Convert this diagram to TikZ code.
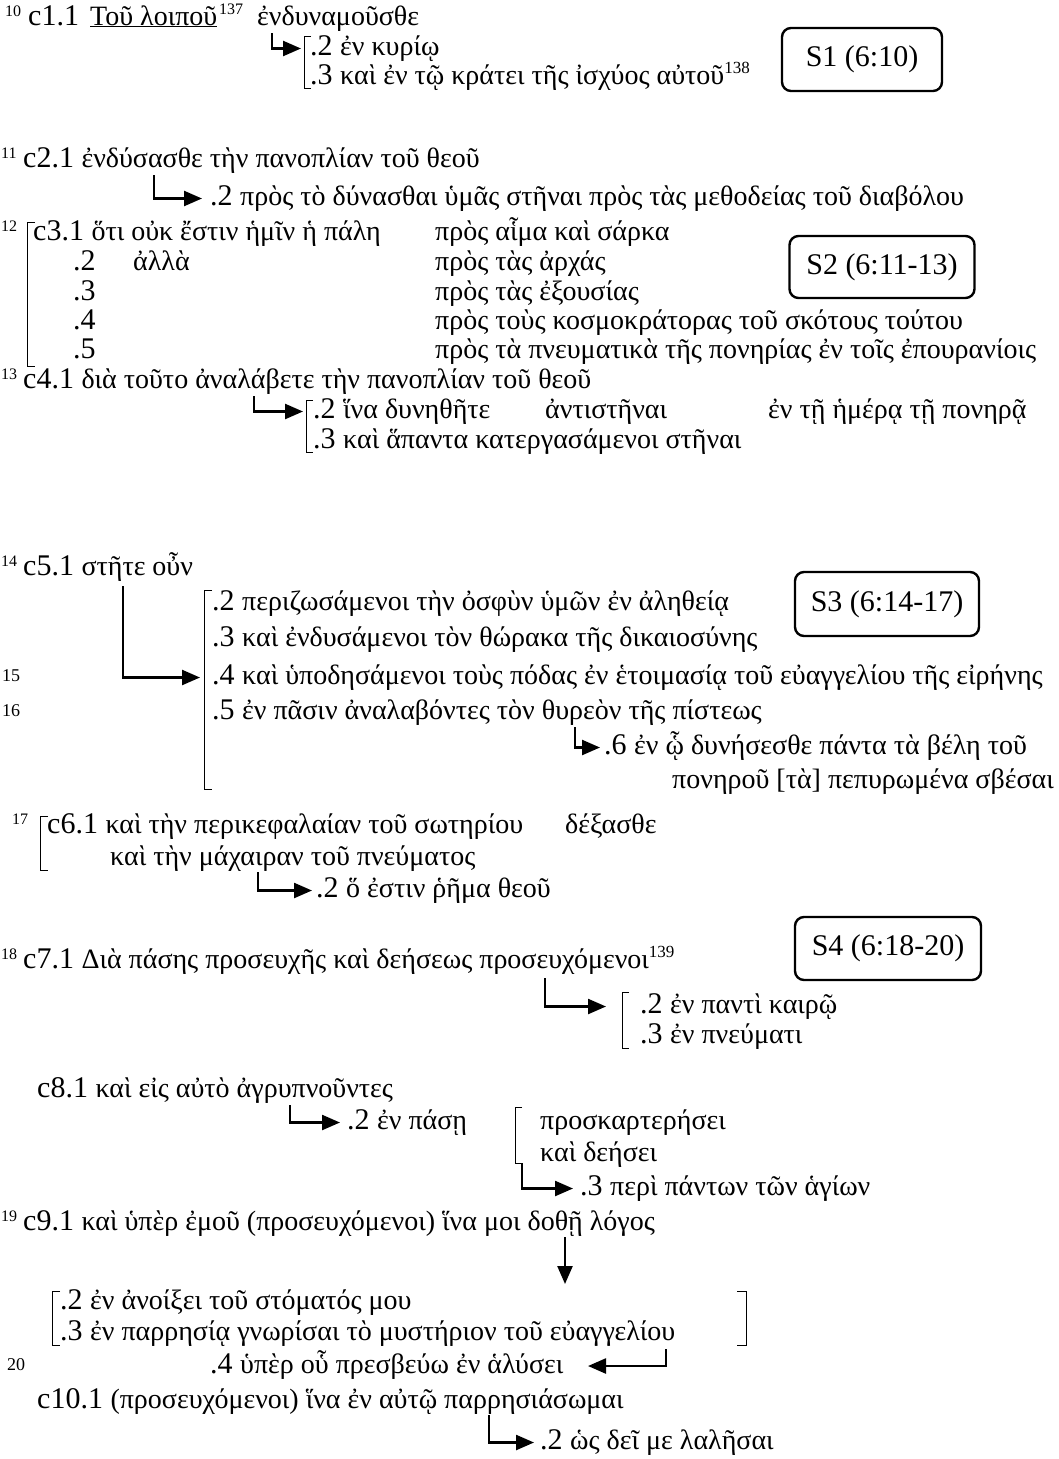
\documentclass[tikz,border=0pt]{standalone}
\usepackage{fontspec}
\setmainfont{Liberation Serif}
\usetikzlibrary{arrows.meta}
\newcommand{\lat}{\fontsize{30}{35}\selectfont}
\newcommand{\gr}[1]{{\fontsize{28}{33}\selectfont #1}}
\newcommand{\fnum}[1]{\raisebox{11pt}{\fontsize{17}{17}\selectfont #1}}
\begin{document}
\begin{tikzpicture}[x=1pt,y=-1pt,
  t/.style={anchor=base west,inner sep=0pt,text height=20pt,text depth=7pt,font=\lat},
  vn/.style={anchor=base west,inner sep=0pt,font=\fontsize{16}{16}\selectfont},
  vb/.style={anchor=base west,inner sep=0pt,font=\fontsize{18}{18}\selectfont},
  arr/.style={line width=2.4pt,-{Triangle[length=18pt,width=15pt]}},
  br/.style={line width=0.9pt},
  sbox/.style={draw,line width=2.4pt,rounded corners=9pt,inner sep=0pt,font=\lat}]
\path[use as bounding box,fill=white] (0,0) rectangle (1059,1459);

% ---- S1 (6:10)
\node[vn] (v10) at (5,16) {10};
\node[t] (c1) at (28,25) {c1.1};
\node[t] (c1a) at (90,25) {\gr{\underline{Τοῦ λοιποῦ}}};
\node[vn] (f137) at (219,14) {137};
\node[t] (c1b) at (257,25) {\gr{ἐνδυναμοῦσθε}};
\node[t] (c1x2) at (310,55) {.2 \gr{ἐν κυρίῳ}};
\node[t] (c1x3) at (310,84) {.3 \gr{καὶ ἐν τῷ κράτει τῆς ἰσχύος αὐτοῦ}\fnum{138}};
\node[sbox,minimum width=160pt,minimum height=63pt] (s1) at (862,59.5) {S1 (6:10)};
\coordinate (a1) at (272,33);
\draw[arr] (a1) |- ([xshift=-9pt]c1x2.west);
\draw[br] (311,36) -- (304,36) -- (304,88) -- (311,88);

% ---- S2 (6:11-13)
\node[vn] (v11) at (1,158) {11};
\node[t] (c2) at (23,167) {c2.1 \gr{ἐνδύσασθε τὴν πανοπλίαν τοῦ θεοῦ}};
\node[t] (c2x2) at (210,205) {.2 \gr{πρὸς τὸ δύνασθαι ὑμᾶς στῆναι πρὸς τὰς μεθοδείας τοῦ διαβόλου}};
\coordinate (a2) at (154,175);
\draw[arr] (a2) |- ([xshift=-8pt]c2x2.west);

\node[vn] (v12) at (1,231) {12};
\node[t] (c3) at (33,240) {c3.1 \gr{ὅτι οὐκ ἔστιν ἡμῖν ἡ πάλη}};
\node[t] (c3p1) at (435,240) {\gr{πρὸς αἷμα καὶ σάρκα}};
\node[t] (c3x2) at (73,270) {.2};
\node[t] (c3x2a) at (133,270) {\gr{ἀλλὰ}};
\node[t] (c3p2) at (435,270) {\gr{πρὸς τὰς ἀρχάς}};
\node[t] (c3x3) at (73,300) {.3};
\node[t] (c3p3) at (435,300) {\gr{πρὸς τὰς ἐξουσίας}};
\node[t] (c3x4) at (73,329) {.4};
\node[t] (c3p4) at (435,329) {\gr{πρὸς τοὺς κοσμοκράτορας τοῦ σκότους τούτου}};
\node[t] (c3x5) at (73,358) {.5};
\node[t] (c3p5) at (435,358) {\gr{πρὸς τὰ πνευματικὰ τῆς πονηρίας ἐν τοῖς ἐπουρανίοις}};
\draw[br] (35,222) -- (27,222) -- (27,366) -- (35,366);
\node[sbox,minimum width=185pt,minimum height=62pt] (s2) at (882,267) {S2 (6:11-13)};

\node[vn] (v13) at (1,379) {13};
\node[t] (c4) at (23,388) {c4.1 \gr{διὰ τοῦτο ἀναλάβετε τὴν πανοπλίαν τοῦ θεοῦ}};
\node[t] (c4x2) at (313,418) {.2 \gr{ἵνα δυνηθῆτε}};
\node[t] (c4x2a) at (545,418) {\gr{ἀντιστῆναι}};
\node[t] (c4x2b) at (768,418) {\gr{ἐν τῇ ἡμέρᾳ τῇ πονηρᾷ}};
\node[t] (c4x3) at (313,448) {.3 \gr{καὶ ἅπαντα κατεργασάμενοι στῆναι}};
\coordinate (a3) at (254,396);
\draw[arr] (a3) |- ([xshift=-10pt]c4x2.west);
\draw[br] (313,400) -- (306,400) -- (306,452) -- (313,452);

% ---- S3 (6:14-17)
\node[vn] (v14) at (1,566) {14};
\node[t] (c5) at (23,575) {c5.1 \gr{στῆτε οὖν}};
\node[t] (c5x2) at (212,610) {.2 \gr{περιζωσάμενοι τὴν ὀσφὺν ὑμῶν ἐν ἀληθείᾳ}};
\node[t] (c5x3) at (212,646) {.3 \gr{καὶ ἐνδυσάμενοι τὸν θώρακα τῆς δικαιοσύνης}};
\node[vb] (v15) at (2,681) {15};
\node[t] (c5x4) at (212,684) {.4 \gr{καὶ ὑποδησάμενοι τοὺς πόδας ἐν ἑτοιμασίᾳ τοῦ εὐαγγελίου τῆς εἰρήνης}};
\node[vb] (v16) at (2,716) {16};
\node[t] (c5x5) at (212,719) {.5 \gr{ἐν πᾶσιν ἀναλαβόντες τὸν θυρεὸν τῆς πίστεως}};
\node[t] (c5x6) at (604,754) {.6 \gr{ἐν ᾧ δυνήσεσθε πάντα τὰ βέλη τοῦ}};
\node[t] (c5x6b) at (672,788) {\gr{πονηροῦ [τὰ] πεπυρωμένα σβέσαι}};
\coordinate (a4) at (123,586);
\draw[arr] (a4) |- ([xshift=-12pt]c5x4.west);
\coordinate (a5) at (575,727);
\draw[arr] (a5) |- ([xshift=-4pt]c5x6.west);
\draw[br] (212,590) -- (204,590) -- (204,789) -- (212,789);
\node[sbox,minimum width=184pt,minimum height=64pt] (s3) at (887,604) {S3 (6:14-17)};

\node[vn] (v17) at (12,824) {17};
\node[t] (c6) at (47,833) {c6.1 \gr{καὶ τὴν περικεφαλαίαν τοῦ σωτηρίου}};
\node[t] (c6v) at (565,833) {\gr{δέξασθε}};
\node[t] (c6b) at (110,865) {\gr{καὶ τὴν μάχαιραν τοῦ πνεύματος}};
\node[t] (c6x2) at (316,897) {.2 \gr{ὅ ἐστιν ῥῆμα θεοῦ}};
\coordinate (a6) at (258,872);
\draw[arr] (a6) |- ([xshift=-4pt]c6x2.west);
\draw[br] (48,816) -- (40,816) -- (40,870) -- (48,870);

% ---- S4 (6:18-20)
\node[sbox,minimum width=186pt,minimum height=63pt] (s4) at (888,948.5) {S4 (6:18-20)};
\node[vn] (v18) at (1,959) {18};
\node[t] (c7) at (23,968) {c7.1 \gr{Διὰ πάσης προσευχῆς καὶ δεήσεως προσευχόμενοι}\fnum{139}};
\node[t] (c7x2) at (640,1013) {.2 \gr{ἐν παντὶ καιρῷ}};
\node[t] (c7x3) at (640,1043) {.3 \gr{ἐν πνεύματι}};
\coordinate (a7) at (545,978);
\draw[arr] (a7) |- ([xshift=-34pt]c7x2.west);
\draw[br] (629,992) -- (622,992) -- (622,1048) -- (629,1048);

\node[t] (c8) at (37,1097) {c8.1 \gr{καὶ εἰς αὐτὸ ἀγρυπνοῦντες}};
\node[t] (c8x2) at (347,1129) {.2 \gr{ἐν πάσῃ}};
\node[t] (c8x2a) at (540,1129) {\gr{προσκαρτερήσει}};
\node[t] (c8x2b) at (540,1161) {\gr{καὶ δεήσει}};
\node[t] (c8x3) at (580,1195) {.3 \gr{περὶ πάντων τῶν ἁγίων}};
\coordinate (a8) at (290,1105);
\draw[arr] (a8) |- ([xshift=-7pt]c8x2.west);
\draw[br] (522,1107) -- (515,1107) -- (515,1163) -- (522,1163);
\coordinate (a9) at (522,1163);
\draw[arr] (a9) |- ([xshift=-7pt]c8x3.west);

\node[vn] (v19) at (1,1221) {19};
\node[t] (c9) at (23,1230) {c9.1 \gr{καὶ ὑπὲρ ἐμοῦ (προσευχόμενοι) ἵνα μοι δοθῇ λόγος}};
\coordinate (a10) at (565,1237);
\coordinate (a10e) at (565,1284);
\draw[arr] (a10) -- (a10e);
\node[t] (c9x2) at (60,1309) {.2 \gr{ἐν ἀνοίξει τοῦ στόματός μου}};
\node[t] (c9x3) at (60,1340) {.3 \gr{ἐν παρρησίᾳ γνωρίσαι τὸ μυστήριον τοῦ εὐαγγελίου}};
\draw[br] (60,1291) -- (52,1291) -- (52,1345) -- (60,1345);
\draw[br] (737,1291) -- (746,1291) -- (746,1345) -- (737,1345);
\node[vb] (v20) at (7,1370) {20};
\node[t] (c9x4) at (210,1373) {.4 \gr{ὑπὲρ οὗ πρεσβεύω ἐν ἁλύσει}};
\coordinate (a11) at (666,1349);
\coordinate (a11e) at (588,1366);
\draw[arr] (a11) |- (a11e);

\node[t] (c10) at (37,1408) {c10.1 \gr{(προσευχόμενοι) ἵνα ἐν αὐτῷ παρρησιάσωμαι}};
\node[t] (c10x2) at (540,1449) {.2 \gr{ὡς δεῖ με λαλῆσαι}};
\coordinate (a12) at (489,1415);
\draw[arr] (a12) |- ([xshift=-6pt]c10x2.west);
\end{tikzpicture}
\end{document}
